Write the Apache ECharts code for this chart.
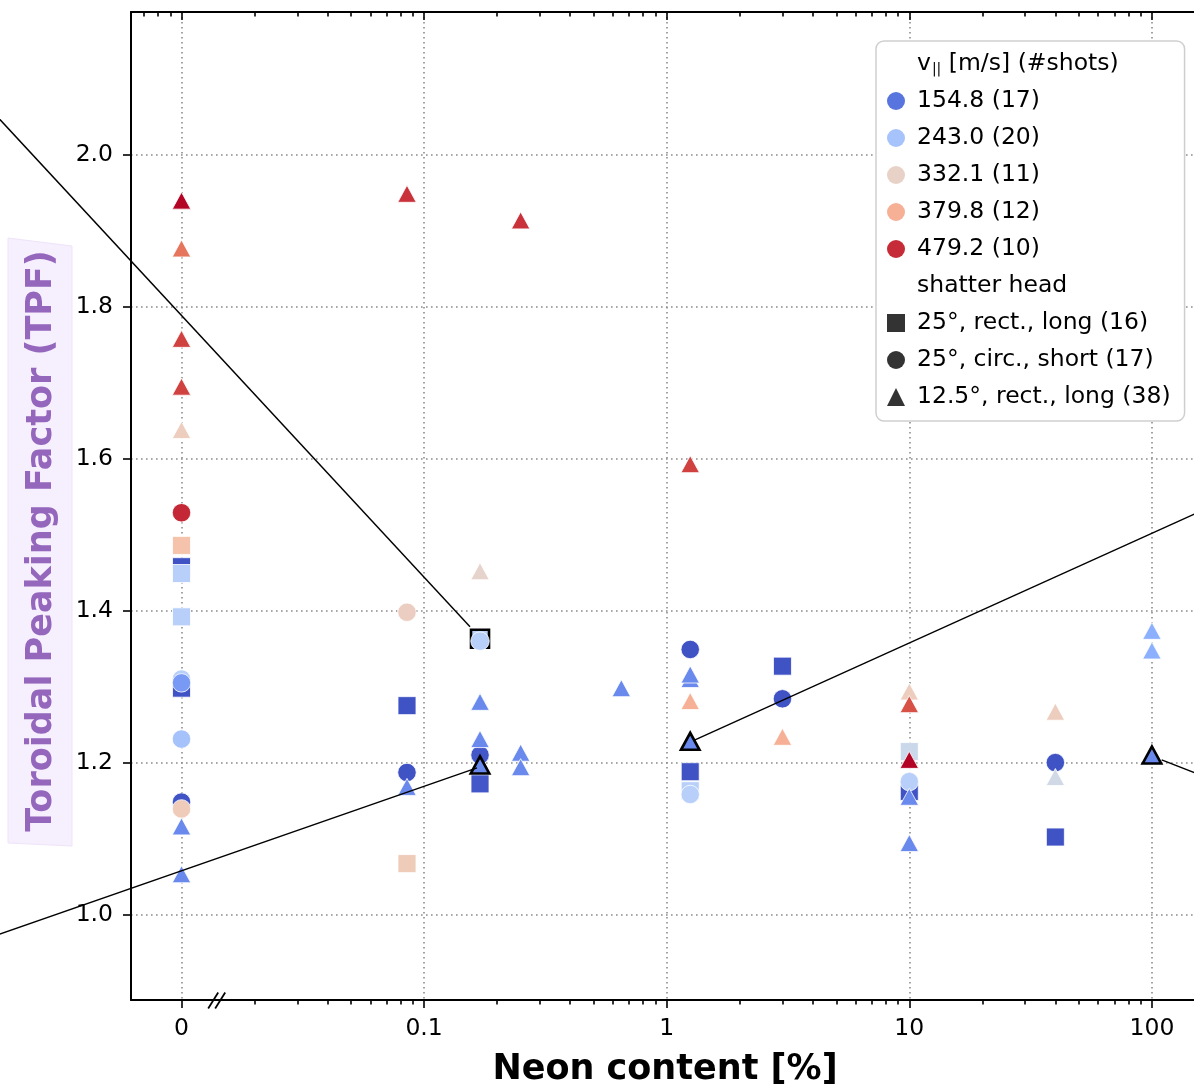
<!DOCTYPE html>
<html>
<head>
<meta charset="utf-8">
<title>Toroidal Peaking Factor vs. Neon content</title>
<script src="https://cdn.jsdelivr.net/npm/echarts@6/dist/echarts.min.js"></script>
<style>
  html, body { margin: 0; padding: 0; background: #fff; }
  #chart { width: 1194px; height: 1087px; }
</style>
</head>
<body>
<div id="chart"></div>
<script>
// ---------------------------------------------------------------------------
// Shot data: neon content [%], toroidal peaking factor, fragment velocity [m/s]
// (neon content 0 = pure deuterium pellet, shown left of the axis break)
// ---------------------------------------------------------------------------

// shatter head 25°, rectangular, long
const squareNeon = [0, 0, 0, 0, 0, 0.085, 0.085, 0.17, 0.17, 1.25, 1.25, 3, 10, 10, 40];
const squareTpf  = [1.486, 1.458, 1.449, 1.392, 1.298, 1.275, 1.067, 1.363, 1.172, 1.188, 1.163, 1.327, 1.2145, 1.162, 1.102];
const squareVel  = [359, 126, 262, 262, 126, 126, 345, 262, 130, 126, 262, 126, 287, 126, 126];

// shatter head 25°, circular, short
const circleNeon = [0, 0, 0, 0, 0, 0, 0.085, 0.085, 0.17, 0.17, 1.25, 1.25, 3, 10, 40];
const circleTpf  = [1.529, 1.31, 1.305, 1.231, 1.148, 1.139, 1.398, 1.187, 1.36, 1.21, 1.349, 1.158, 1.284, 1.175, 1.2];
const circleVel  = [482, 262, 192, 242, 126, 345, 338, 126, 262, 130, 126, 262, 126, 262, 126];

// shatter head 12.5°, rectangular, long
const triangleNeon = [0, 0, 0, 0, 0, 0, 0, 0.085, 0.085, 0.17, 0.17, 0.17, 0.17, 0.25, 0.25, 0.25,
                      0.65, 1.25, 1.25, 1.25, 1.25, 1.25, 3, 10, 10, 10, 10, 10, 40, 40, 100, 100, 100];
const triangleTpf  = [1.94, 1.877, 1.758, 1.695, 1.638, 1.116, 1.053, 1.949, 1.168, 1.452, 1.28, 1.231, 1.197,
                      1.914, 1.213, 1.194, 1.298, 1.593, 1.31, 1.316, 1.281, 1.228, 1.234, 1.2936, 1.277,
                      1.2036, 1.155, 1.094, 1.267, 1.181, 1.3735, 1.3476, 1.21];
const triangleVel  = [500, 435, 468, 468, 341, 175, 175, 476, 175, 327, 175, 175, 175, 476, 175, 175,
                      175, 468, 175, 175, 380, 175, 380, 341, 460, 500, 175, 175, 341, 295, 215, 215, 175];

// shots singled out in the zoomed views (indices into the arrays above)
const highlightedSquares   = [7];
const highlightedCircles   = [];
const highlightedTriangles = [12, 21, 32];

// velocity classes for the legend: mean v_|| [m/s] and number of shots
const velocityMeans = [154.8, 243.0, 332.1, 379.8, 479.2];
const velocityShots = [17, 20, 11, 12, 10];

// shatter head legend labels
const headLabels = ['25°, rect., long (16)', '25°, circ., short (17)', '12.5°, rect., long (38)'];

// x tick labels for decades 10^-2 ... 10^2 (10^-2 carries the "0" column)
const xTickLabels = ['0', '0.1', '1', '10', '100'];
const yTicks = [1.0, 1.2, 1.4, 1.6, 1.8, 2.0];

// connector lines toward the zoom insets, in data units [neon %, TPF]
const connectorLines = [
  [[0.001343, 2.0893], [0.1546, 1.3788]],
  [[0.001343, 0.9605], [0.1652, 1.193]],
  [[1.308, 1.2299], [209.9, 1.5485]],
  [[109.7, 1.2036], [209.9, 1.1685]]
];

// ---------------------------------------------------------------------------
// Scales and styling
// ---------------------------------------------------------------------------
const FONT = '"DejaVu Sans", Verdana, sans-serif';
const ZERO_AT = 0.01;            // where the 0 % column sits on the log axis
const BREAK_AT = 0.0139;         // position of the "//" axis-break mark
const X_LOG_MIN = -2.2082, X_LOG_MAX = 2.1941;
const Y_MIN = 0.8874, Y_MAX = 2.1884;
const V_MIN = 120, V_MAX = 500;  // colour normalisation of v_||

const COOLWARM = [
  [59, 76, 192], [98, 130, 234], [141, 176, 254], [184, 208, 249], [221, 221, 221],
  [245, 196, 173], [244, 154, 123], [222, 96, 77], [180, 4, 38]
];
function coolwarm(t) {
  t = Math.max(0, Math.min(1, t));
  const s = t * (COOLWARM.length - 1);
  const i = Math.min(Math.floor(s), COOLWARM.length - 2);
  const f = s - i, a = COOLWARM[i], b = COOLWARM[i + 1];
  const c = a.map((v, k) => Math.round(v + (b[k] - v) * f));
  return 'rgb(' + c.join(',') + ')';
}
const velColor = v => coolwarm((v - V_MIN) / (V_MAX - V_MIN));
const toX = n => (n === 0 ? ZERO_AT : n);

const log10 = Math.log10;
const majorLogs = [-2, -1, 0, 1, 2];
const minorLogs = [];
for (let d = -3; d <= 2; d++) {
  for (let m = 2; m <= 9; m++) {
    const l = log10(m) + d;
    if (l > X_LOG_MIN && l < X_LOG_MAX) minorLogs.push(l);
  }
}
const minorLogsBottom = minorLogs.filter(l => l > log10(0.015));

function shapeSeries(name, symbol, size, xs, ys, vs, highlighted) {
  return {
    type: 'scatter',
    name: name,
    symbol: symbol,
    symbolSize: size,
    xAxisIndex: 0,
    yAxisIndex: 0,
    z: 3,
    data: xs.map((x, i) => {
      const item = { value: [toX(x), ys[i], vs[i]] };
      if (highlighted.includes(i)) item.itemStyle = { borderColor: '#000', borderWidth: 2.6 };
      return item;
    }),
    itemStyle: {
      color: p => velColor(p.value[2]),
      borderColor: '#fff',
      borderWidth: 0.8,
      opacity: 1
    },
    emphasis: { disabled: true }
  };
}

const VPAR_TITLE = 'v|| [m/s] (#shots)';
const SHATTER_TITLE = 'shatter head';
const velocityLabels = velocityMeans.map((v, i) => v.toFixed(1) + ' (' + velocityShots[i] + ')');

const series = [];
series.push({ type: 'scatter', name: VPAR_TITLE, data: [], itemStyle: { opacity: 0 } });
velocityLabels.forEach((label, i) => {
  series.push({ type: 'scatter', name: label, data: [], itemStyle: { color: velColor(velocityMeans[i]), opacity: 1 } });
});
series.push({ type: 'scatter', name: SHATTER_TITLE, data: [], itemStyle: { opacity: 0 } });
series.push(shapeSeries(headLabels[0], 'rect', 18, squareNeon, squareTpf, squareVel, highlightedSquares));
series.push(shapeSeries(headLabels[1], 'circle', 18.5, circleNeon, circleTpf, circleVel, highlightedCircles));
series.push(shapeSeries(headLabels[2], 'triangle', [18.5, 17], triangleNeon, triangleTpf, triangleVel, highlightedTriangles));

// connector lines, allowed to run past the axes
series.push({
  type: 'custom',
  name: 'connectors',
  coordinateSystem: 'cartesian2d',
  xAxisIndex: 0,
  yAxisIndex: 0,
  clip: false,
  silent: true,
  z: 5,
  data: connectorLines.map(s => [s[0][0], s[0][1], s[1][0], s[1][1]]),
  encode: { x: [0, 2], y: [1, 3] },
  renderItem: (params, api) => {
    const p0 = api.coord([api.value(0), api.value(1)]);
    const p1 = api.coord([api.value(2), api.value(3)]);
    return {
      type: 'line',
      shape: { x1: p0[0], y1: p0[1], x2: p1[0], y2: p1[1] },
      style: { stroke: '#000', lineWidth: 1.4, fill: null }
    };
  }
});

const invisible = { color: 'rgba(0,0,0,0)', borderWidth: 0, opacity: 0 };
const gridLine = { show: true, lineStyle: { type: [1.6, 3.4], color: '#8c8c8c', width: 1.6 } };
const tickLine = { color: '#000', width: 1.6 };

const chart = echarts.init(document.getElementById('chart'), null, { renderer: 'canvas' });

chart.setOption({
  animation: false,
  backgroundColor: '#fff',
  grid: { left: 131, top: 12, right: -5, bottom: 87, containLabel: false, outerBoundsMode: 'none' },
  xAxis: [
    { // logarithmic neon axis carrying the data
      type: 'log',
      logBase: 10,
      min: Math.pow(10, X_LOG_MIN),
      max: Math.pow(10, X_LOG_MAX),
      position: 'bottom',
      name: 'Neon content [%]',
      nameLocation: 'middle',
      nameGap: 52,
      nameTextStyle: { fontFamily: FONT, fontWeight: 'bold', fontSize: 35, color: '#000' },
      axisLine: { onZero: false, lineStyle: { color: '#000', width: 2 } },
      axisTick: { show: false },
      minorTick: { show: false },
      splitLine: { show: false },
      axisLabel: {
        margin: 17,
        fontFamily: FONT,
        fontSize: 23.5,
        color: '#000',
        formatter: v => {
          const e = log10(v), r = Math.round(e);
          if (Math.abs(e - r) > 1e-6) return '';
          const lbl = xTickLabels[r + 2];
          return lbl === undefined ? '' : lbl;
        }
      }
    },
    { // major ticks + vertical grid
      type: 'value', min: X_LOG_MIN, max: X_LOG_MAX, position: 'bottom',
      axisLine: { show: false, onZero: false },
      axisLabel: { show: false },
      axisTick: { show: true, customValues: majorLogs, length: 8, lineStyle: tickLine },
      splitLine: gridLine
    },
    { // minor ticks, bottom
      type: 'value', min: X_LOG_MIN, max: X_LOG_MAX, position: 'bottom',
      axisLine: { show: false, onZero: false },
      axisLabel: { show: false },
      axisTick: { show: true, customValues: minorLogsBottom, length: 4.5, lineStyle: tickLine },
      splitLine: { show: false }
    },
    { // top spine with inward major ticks
      type: 'value', min: X_LOG_MIN, max: X_LOG_MAX, position: 'top',
      axisLine: { show: true, onZero: false, lineStyle: { color: '#000', width: 2 } },
      axisLabel: { show: false },
      axisTick: { show: true, inside: true, customValues: majorLogs, length: 8, lineStyle: tickLine },
      splitLine: { show: false }
    },
    { // top inward minor ticks
      type: 'value', min: X_LOG_MIN, max: X_LOG_MAX, position: 'top',
      axisLine: { show: false, onZero: false },
      axisLabel: { show: false },
      axisTick: { show: true, inside: true, customValues: minorLogs, length: 4.5, lineStyle: tickLine },
      splitLine: { show: false }
    }
  ],
  yAxis: {
    type: 'value',
    min: Y_MIN,
    max: Y_MAX,
    axisLine: { show: true, onZero: false, lineStyle: { color: '#000', width: 2 } },
    axisTick: { show: true, customValues: yTicks, length: 8, lineStyle: tickLine },
    axisLabel: {
      customValues: yTicks,
      margin: 18,
      fontFamily: FONT,
      fontSize: 23.5,
      color: '#000',
      formatter: v => v.toFixed(1)
    },
    splitLine: gridLine
  },
  legend: {
    orient: 'vertical',
    left: 876,
    top: 41,
    padding: [11, 14, 12, 11],
    itemWidth: 18,
    itemHeight: 18,
    itemGap: 13,
    selectedMode: false,
    backgroundColor: '#fff',
    borderColor: '#cfcfcf',
    borderWidth: 1.5,
    borderRadius: 8,
    z: 10,
    itemStyle: { borderWidth: 0, opacity: 1 },
    textStyle: {
      fontFamily: FONT,
      fontSize: 23.5,
      lineHeight: 24,
      color: '#000',
      padding: [0, 0, 0, 7],
      rich: {
        v:   { fontFamily: FONT, fontSize: 23.5, lineHeight: 24, color: '#000' },
        sub: { fontFamily: FONT, fontSize: 14, lineHeight: 24, color: '#000', verticalAlign: 'bottom', padding: [9, 0, 0, 1] }
      }
    },
    formatter: name => (name === VPAR_TITLE ? '{v|v}{sub|||}{v| [m/s] (#shots)}' : name),
    data: [
      { name: VPAR_TITLE, icon: 'circle', itemStyle: invisible },
      ...velocityLabels.map((label, i) => ({
        name: label, icon: 'circle',
        itemStyle: { color: velColor(velocityMeans[i]), borderWidth: 0, opacity: 1 }
      })),
      { name: SHATTER_TITLE, icon: 'circle', itemStyle: invisible },
      { name: headLabels[0], icon: 'rect', itemStyle: { color: '#333', borderWidth: 0, opacity: 1 } },
      { name: headLabels[1], icon: 'circle', itemStyle: { color: '#333', borderWidth: 0, opacity: 1 } },
      { name: headLabels[2], icon: 'triangle', itemStyle: { color: '#333', borderWidth: 0, opacity: 1 } }
    ]
  },
  graphic: [
    {
      type: 'polygon', id: 'ylabelBox', z: 20,
      shape: { points: [[8, 238], [72, 246], [72, 846], [8, 843]] },
      style: { fill: '#f6effd', stroke: '#efe3fa', lineWidth: 1 }
    },
    {
      type: 'text', id: 'ylabel', z: 21,
      x: 42, y: 541, rotation: Math.PI / 2,
      style: {
        text: 'Toroidal Peaking Factor (TPF)',
        fill: '#9467bd',
        font: 'bold 35px ' + FONT,
        align: 'center',
        verticalAlign: 'middle'
      }
    }
  ],
  series: series
});

// "//" axis-break mark on the bottom spine between the 0 column and 0.1
const bx = chart.convertToPixel({ xAxisIndex: 0 }, BREAK_AT);
const by = chart.convertToPixel({ yAxisIndex: 0 }, Y_MIN);
chart.setOption({
  graphic: [
    { type: 'line', id: 'break1', z: 30, shape: { x1: bx - 8, y1: by + 8.5, x2: bx + 2, y2: by - 7.5 }, style: { stroke: '#000', lineWidth: 1.8 } },
    { type: 'line', id: 'break2', z: 30, shape: { x1: bx - 1, y1: by + 8.5, x2: bx + 9, y2: by - 7.5 }, style: { stroke: '#000', lineWidth: 1.8 } }
  ]
});
</script>
</body>
</html>
